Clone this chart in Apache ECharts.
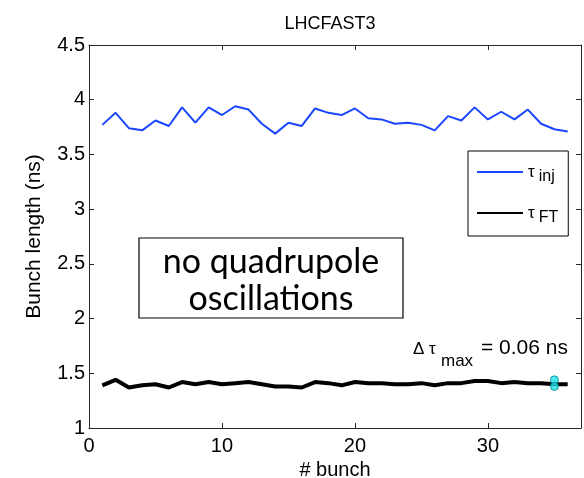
<!DOCTYPE html>
<html>
<head>
<meta charset="utf-8">
<script src="https://cdn.jsdelivr.net/npm/echarts@6/dist/echarts.min.js"></script>
<style>
  html, body { margin: 0; padding: 0; background: #fff; }
  #chart { width: 584px; height: 478px; }
</style>
</head>
<body>
<div id="chart"></div>
<script>
// Bunch index along the train
const bunches = [1,2,3,4,5,6,7,8,9,10,11,12,13,14,15,16,17,18,19,20,21,22,23,24,25,26,27,28,29,30,31,32,33,34,35,36];
// Bunch length at injection (ns)
const tauInj = [3.77,3.88,3.74,3.72,3.81,3.76,3.93,3.79,3.93,3.86,3.94,3.91,3.78,3.69,3.79,3.76,3.92,3.88,3.86,3.92,3.83,3.82,3.78,3.79,3.77,3.72,3.85,3.81,3.93,3.82,3.89,3.82,3.91,3.78,3.73,3.71];
// Bunch length at flat top (ns)
const tauFT = [1.39,1.44,1.37,1.39,1.40,1.37,1.42,1.40,1.42,1.40,1.41,1.42,1.40,1.38,1.38,1.37,1.42,1.41,1.39,1.42,1.41,1.41,1.40,1.40,1.41,1.39,1.41,1.41,1.43,1.43,1.41,1.42,1.41,1.41,1.40,1.40];
// Largest spread of the flat-top length, marked on one bunch
const spreadBunch = 35;
const spreadValues = [1.44, 1.38];
// Axis ranges and tick steps
const xRange = [0, 37];
const xStep = 10;
const yRange = [1, 4.5];
const yStep = 0.5;

const axisColor = '#262626';
const font = '"Liberation Sans", Arial, sans-serif';

const chart = echarts.init(document.getElementById('chart'), null, { renderer: 'canvas' });

const frameAxis = (extra) => Object.assign({
  axisLine: { show: true, onZero: false, lineStyle: { color: axisColor, width: 1 } },
  axisTick: { show: true, inside: true, length: 5, lineStyle: { color: axisColor } },
  splitLine: { show: false },
  axisLabel: { show: false }
}, extra);

chart.setOption({
  animation: false,
  backgroundColor: '#fff',
  title: {
    text: 'LHCFAST3',
    left: 325,
    textAlign: 'center',
    top: 10,
    textStyle: { fontFamily: font, fontSize: 18, fontWeight: 'normal', color: '#000' }
  },
  grid: { left: 89, right: 3, top: 45, bottom: 50, containLabel: false, outerBoundsMode: 'none' },
  xAxis: [
    frameAxis({
      type: 'value', position: 'bottom', min: xRange[0], max: xRange[1], interval: xStep,
      name: '# bunch', nameLocation: 'middle', nameGap: 28,
      nameTextStyle: { fontFamily: font, fontSize: 20, color: '#000' },
      axisLabel: {
        show: true, fontFamily: font, fontSize: 20, color: '#000', margin: 8,
        showMaxLabel: false,
        formatter: v => (v % xStep === 0 ? String(v) : '')
      }
    }),
    frameAxis({ type: 'value', position: 'top', min: xRange[0], max: xRange[1], interval: xStep })
  ],
  yAxis: [
    frameAxis({
      type: 'value', position: 'left', min: yRange[0], max: yRange[1], interval: yStep,
      name: 'Bunch length (ns)', nameLocation: 'middle', nameGap: 44,
      nameTextStyle: { fontFamily: font, fontSize: 21, color: '#000' },
      axisLabel: { show: true, fontFamily: font, fontSize: 20, color: '#000', margin: 4 }
    }),
    frameAxis({ type: 'value', position: 'right', min: yRange[0], max: yRange[1], interval: yStep })
  ],
  legend: {
    data: [{ name: 'inj', icon: 'rect' }, { name: 'FT', icon: 'rect' }],
    orient: 'vertical',
    left: 468,
    top: 151,
    padding: [8, 10, 10, 9],
    itemGap: 15,
    itemWidth: 46,
    itemHeight: 2,
    borderColor: '#000',
    borderWidth: 1,
    borderRadius: 0,
    backgroundColor: '#fff',
    formatter: name => '{t|τ}{s|' + name + '}',
    textStyle: {
      color: '#000',
      rich: {
        t: { fontFamily: font, fontSize: 17, color: '#000', lineHeight: 16 },
        s: { fontFamily: font, fontSize: 16, color: '#000', lineHeight: 14, padding: [10, 0, 0, 4] }
      }
    }
  },
  series: [
    {
      name: 'inj', type: 'line', symbol: 'none',
      lineStyle: { color: '#1a46ff', width: 2 }, itemStyle: { color: '#1a46ff' },
      data: bunches.map((b, i) => [b, tauInj[i]])
    },
    {
      name: 'FT', type: 'line', symbol: 'none',
      lineStyle: { color: '#000', width: 4 }, itemStyle: { color: '#000' },
      data: bunches.map((b, i) => [b, tauFT[i]])
    },
    {
      name: 'spread', type: 'scatter', symbol: 'circle', symbolSize: 8,
      itemStyle: { color: '#1ee3ea', borderColor: '#0b7f96', borderWidth: 1 },
      data: spreadValues.map(v => [spreadBunch, v]),
      z: 5
    }
  ],
  graphic: [
    {
      type: 'group',
      children: [
        { type: 'rect', shape: { x: 139, y: 238, width: 264, height: 80 },
          style: { fill: '#fff', stroke: '#000', lineWidth: 1.2 } },
        { type: 'text', x: 271, y: 262,
          style: { text: 'no quadrupole', fill: '#000', font: '34px Lato, "Open Sans", sans-serif',
                   textAlign: 'center', textVerticalAlign: 'middle' } },
        { type: 'text', x: 271, y: 299,
          style: { text: 'oscillations', fill: '#000', font: '34px Lato, "Open Sans", sans-serif',
                   textAlign: 'center', textVerticalAlign: 'middle' } }
      ]
    },
    { type: 'text', x: 413, y: 349,
      style: { text: 'Δ τ', fill: '#000', font: '17px ' + font, textVerticalAlign: 'middle' } },
    { type: 'text', x: 441, y: 361,
      style: { text: 'max', fill: '#000', font: '17px ' + font, textVerticalAlign: 'middle' } },
    { type: 'text', x: 481, y: 348,
      style: { text: '= 0.06 ns', fill: '#000', font: '21px ' + font, textVerticalAlign: 'middle' } }
  ]
});
</script>
</body>
</html>
